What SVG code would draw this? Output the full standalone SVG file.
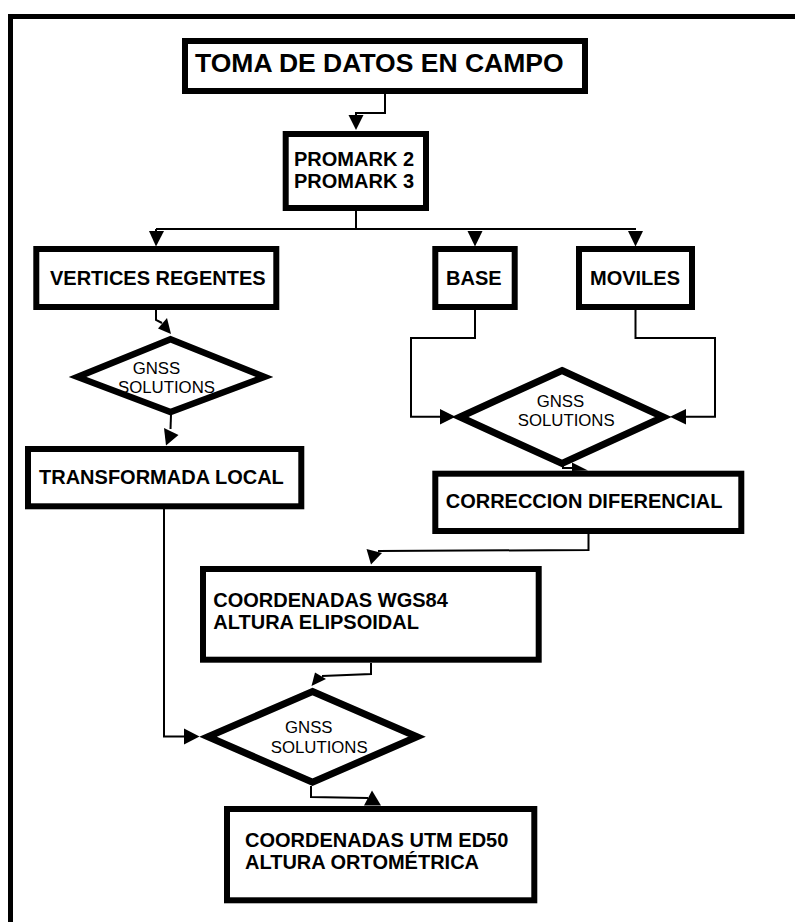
<svg xmlns="http://www.w3.org/2000/svg" width="795" height="922" viewBox="0 0 795 922">
<style>
.box{fill:#fff;stroke:#000;stroke-width:6}
.dia{fill:#fff;stroke:#000;stroke-width:6.5;stroke-linejoin:miter}
.b{font-family:"Liberation Sans",Arial,sans-serif;font-weight:bold;font-size:20px;fill:#000}
.r{font-family:"Liberation Sans",Arial,sans-serif;font-size:16.8px;fill:#000}
.ln{fill:none;stroke:#000;stroke-width:2}
.ah{fill:#000}
</style>
<rect width="795" height="922" fill="#fff"/>
<g id="frame">
<line x1="8" y1="16.5" x2="795" y2="16.5" stroke="#000" stroke-width="5"/>
<line x1="10.5" y1="14" x2="10.5" y2="922" stroke="#000" stroke-width="5"/>
</g>
<g id="connectors">
<polyline class="ln" points="385,94 385,113 356,113 356,116"/>
<polygon class="ah" points="348.5,115 363.5,115 356,130"/>
<polyline class="ln" points="356,211 356,229"/>
<line class="ln" x1="156" y1="229" x2="636" y2="229"/>
<line class="ln" x1="156" y1="229" x2="156" y2="232"/>
<polygon class="ah" points="149,231 164,231 156,246.5"/>
<polygon class="ah" points="467.5,231 482.5,231 475,246.5"/>
<polygon class="ah" points="628,231 643,231 635.5,246.5"/>
<polyline class="ln" points="156,310 156,320 162,323"/>
<polygon class="ah" points="158,328.5 167,318 171,334"/>
<polyline class="ln" points="171,415 170.5,429"/>
<polygon class="ah" points="164,428 178.5,435 166,445.5"/>
<polyline class="ln" points="475,310 475,338 411,338 411,416.7 442,416.7"/>
<polygon class="ah" points="440,409 440,424.5 455.5,416.7"/>
<polyline class="ln" points="635.5,310 635.5,338 715,338 715,416.7 684,416.7"/>
<polygon class="ah" points="686,409 686,424.5 670,416.7"/>
<polyline class="ln" points="563,466 563,468 574,468"/>
<polygon class="ah" points="572,462.5 588,470.5 572,471"/>
<polyline class="ln" points="164,509 164,736.5 186,736.5"/>
<polygon class="ah" points="184,728.5 184,744.5 199.5,736.5"/>
<polyline class="ln" points="588.5,534 588.5,550 378,551"/>
<polygon class="ah" points="366.5,549 382,553 371,564.5"/>
<polyline class="ln" points="371,663 371,674 322,676"/>
<polygon class="ah" points="315,672.5 326,679 311.5,686"/>
<polyline class="ln" points="311,786 311,797 368,798"/>
<polygon class="ah" points="364,805.5 372,790.5 381,805.5"/>
</g>
<g id="toma">
<rect class="box" x="185" y="41" width="400" height="50"/>
<text class="b" x="195" y="72" style="font-size:26.5px">TOMA DE DATOS EN CAMPO</text>
</g>
<g id="promark">
<rect class="box" x="285.7" y="134" width="140.3" height="74"/>
<text class="b" x="294" y="165.5">PROMARK 2</text>
<text class="b" x="294" y="188">PROMARK 3</text>
</g>
<g id="vertices">
<rect class="box" x="36.3" y="249" width="240" height="58"/>
<text class="b" x="50" y="285">VERTICES REGENTES</text>
</g>
<g id="base">
<rect class="box" x="435.3" y="249" width="79.4" height="58"/>
<text class="b" x="446" y="285">BASE</text>
</g>
<g id="moviles">
<rect class="box" x="579" y="249" width="113" height="58"/>
<text class="b" x="590" y="285">MOVILES</text>
</g>
<g id="gnss1">
<polygon class="dia" points="170.5,339.2 264.4,377 170.5,412 77.6,377"/>
<text class="r" x="132.7" y="374">GNSS</text>
<text class="r" x="118" y="393.3">SOLUTIONS</text>
</g>
<g id="transformada">
<rect class="box" x="28" y="449" width="273.3" height="57.3"/>
<text class="b" x="39" y="484">TRANSFORMADA LOCAL</text>
</g>
<g id="gnss2">
<polygon class="dia" points="562,370.5 663.3,417 562,463.5 460,417" style="stroke-width:7"/>
<text class="r" x="536.7" y="406.7">GNSS</text>
<text class="r" x="517.7" y="426">SOLUTIONS</text>
</g>
<g id="correccion">
<rect class="box" x="435.3" y="473.7" width="306" height="57.3"/>
<text class="b" x="445.7" y="508.3">CORRECCION DIFERENCIAL</text>
</g>
<g id="wgs84">
<rect class="box" x="203" y="569" width="335.7" height="90.7"/>
<text class="b" x="213.3" y="607.3">COORDENADAS WGS84</text>
<text class="b" x="213.3" y="629.3">ALTURA ELIPSOIDAL</text>
</g>
<g id="gnss3">
<polygon class="dia" points="312.5,691.5 417,736.8 312.5,782.2 208,736.8" style="stroke-width:7"/>
<text class="r" x="285" y="733.3">GNSS</text>
<text class="r" x="270.7" y="752.7">SOLUTIONS</text>
</g>
<g id="utm">
<rect class="box" x="227" y="809" width="307.3" height="91.3"/>
<text class="b" x="245" y="846.7">COORDENADAS UTM ED50</text>
<text class="b" x="245" y="869.3">ALTURA ORTOMÉTRICA</text>
</g>
</svg>
